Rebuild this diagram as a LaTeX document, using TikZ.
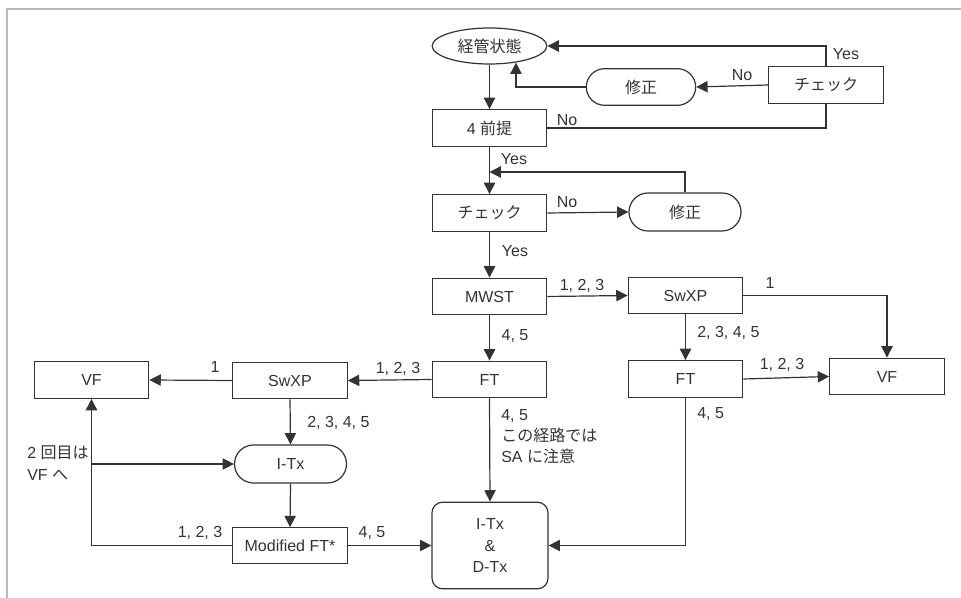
\documentclass[tikz,border=0pt]{standalone}
\usepackage{fontspec}
\setmainfont{Liberation Sans}
\newfontfamily\jp{Noto Sans CJK JP}
\usetikzlibrary{arrows.meta,shapes.geometric,shapes.misc}
\definecolor{ink}{HTML}{333333}
\begin{document}
\begin{tikzpicture}[x=0.75pt,y=-0.75pt,
  font=\fontsize{12pt}{16pt}\selectfont,
  box/.style={draw=ink, line width=0.9pt, minimum width=86pt, minimum height=27.5pt, inner sep=1pt, text=ink},
  stad/.style={box, rounded rectangle},
  ellip/.style={box, ellipse, minimum width=86pt, minimum height=27pt},
  arr/.style={draw=ink, line width=0.9pt, -{Triangle[length=8.5pt,width=8.5pt]}},
  ln/.style={draw=ink, line width=0.9pt},
  lbl/.style={text=ink, inner sep=0pt}]
\useasboundingbox (0,0) rectangle (961,598);
\draw[gray!55, line width=1pt] (7,598) -- (7,9) -- (961,9);

% nodes
\node[ellip] (ell) at (489.5,46) {\jp 経管状態};
\node[box] (chk1) at (826,85) {\jp チェック};
\node[stad, minimum width=84pt] (fix1) at (641,87) {\jp 修正};
\node[box] (pre) at (489.5,128) {4 {\jp 前提}};
\node[box] (chk2) at (489.5,213) {\jp チェック};
\node[stad, minimum height=28.5pt] (fix2) at (685,212) {\jp 修正};
\node[box] (mwst) at (489.5,296.5) {MWST};
\node[box] (swr) at (685.5,295.5) {SwXP};
\node[box] (vfr) at (887,376.5) {VF};
\node[box] (ftr) at (685.5,379) {FT};
\node[box] (ftc) at (489.5,379.5) {FT};
\node[box] (swl) at (290,380.5) {SwXP};
\node[box] (vfl) at (91.5,380) {VF};
\node[stad, minimum height=28.5pt] (itx) at (290.5,464) {I-Tx};
\node[box, minimum height=26.5pt] (mft) at (290,545.5) {Modified FT*};
\node[box, rounded corners=8pt, minimum width=87pt, minimum height=65pt, align=center] (dtx) at (490,545.5) {I-Tx\\\&\\D-Tx};

% helper coordinates
\coordinate (j1) at (489.5,172);
\coordinate (j2) at (vfl.south |- itx.west);

% connectors
\draw[arr] (ell.south) -- (pre.north);
\draw[arr] (chk1.north) |- (ell.east);
\node[lbl] at (846,54) {Yes};
\draw[arr] (chk1.west) -- (fix1.east);
\node[lbl] at (742,75) {No};
\draw[arr] (fix1.west) -| (ell.-32);
\draw[ln] (pre.east) -| (chk1.south);
\node[lbl] at (567,120) {No};
\draw[arr] (pre.south) -- (chk2.north);
\node[lbl] at (514,159) {Yes};
\draw[arr] (fix2.north) |- (j1);
\draw[arr] (chk2.east) -- (fix2.west);
\node[lbl] at (567,202) {No};
\draw[arr] (chk2.south) -- (mwst.north);
\node[lbl] at (515,251) {Yes};
\draw[arr] (mwst.east) -- (swr.west);
\node[lbl] at (582,286) {1, 2, 3};
\draw[arr] (swr.east) -| (vfr.north);
\node[lbl] at (770,283) {1};
\draw[arr] (swr.south) -- (ftr.north);
\node[lbl, anchor=west] at (697,333) {2, 3, 4, 5};
\draw[arr] (ftr.east) -- (vfr.west);
\node[lbl] at (782,365) {1, 2, 3};
\draw[arr] (ftr.south) |- (dtx.east);
\node[lbl, anchor=west] at (697,414) {4, 5};
\draw[arr] (mwst.south) -- (ftc.north);
\node[lbl] at (515,336) {4, 5};
\draw[arr] (ftc.west) -- (swl.east);
\node[lbl] at (398,369) {1, 2, 3};
\draw[arr] (swl.west) -- (vfl.east);
\node[lbl] at (215,367) {1};
\draw[arr] (swl.south) -- (itx.north);
\node[lbl, anchor=west] at (307,423) {2, 3, 4, 5};
\draw[arr] (itx.south) -- (mft.north);
\draw[arr] (mft.west) -| (vfl.south);
\node[lbl] at (200,533) {1, 2, 3};
\draw[arr] (j2) -- (itx.west);
\node[lbl, anchor=west, align=left] at (27,463) {2 {\jp 回目は}\\VF {\jp へ}};
\draw[arr] (mft.east) -- (dtx.west);
\node[lbl] at (372,533) {4, 5};
\draw[arr] (ftc.south) -- (dtx.north);
\node[lbl, anchor=north west, align=left] at (501,409) {4, 5\\{\jp この経路では}\\SA {\jp に注意}};
\end{tikzpicture}
\end{document}
